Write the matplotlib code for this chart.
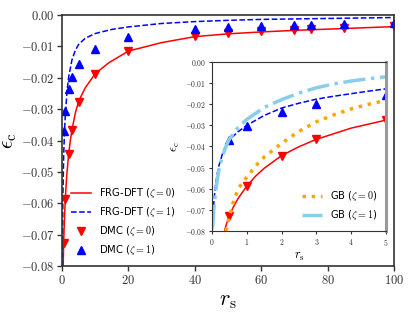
import matplotlib
matplotlib.use("Agg")
import matplotlib.pyplot as plt
from matplotlib.ticker import FuncFormatter

plt.rcParams['mathtext.fontset'] = 'cm'
plt.rcParams['font.family'] = ['DejaVu Sans']

# DMC points (same r_s grid for both polarisations)
dmc_rs = [0.5, 1, 2, 3, 5, 10, 20, 40, 50, 60, 70, 75, 85, 100]
dmc_z0 = [-0.0728, -0.0587, -0.0443, -0.0366, -0.0276, -0.0187, -0.0116,
          -0.0068, -0.0058, -0.0051, -0.0047, -0.0045, -0.0041, -0.0036]
dmc_z1 = [-0.0369, -0.0305, -0.0237, -0.0199, -0.0155, -0.0107, -0.0071,
          -0.0045, -0.0039, -0.0035, -0.0032, -0.0031, -0.0028, -0.0025]

# FRG-DFT zeta=0
frg0_rs = [0.36, 0.4, 0.45, 0.5, 0.6, 0.75, 1.0, 1.25, 1.5, 2, 2.5, 3, 4, 5,
           7, 10, 14, 20, 30, 40, 50, 60, 70, 80, 90, 100]
frg0 = [-0.0800, -0.0775, -0.0750, -0.0728, -0.0691, -0.0646, -0.0587,
        -0.0541, -0.0503, -0.0443, -0.0401, -0.0366, -0.0313, -0.0275,
        -0.0232, -0.0187, -0.0153, -0.0115, -0.0088, -0.0069, -0.0060,
        -0.0054, -0.0049, -0.0045, -0.0041, -0.0037]

# FRG-DFT zeta=1, main panel
frg1_rs = [0.12, 0.2, 0.3, 0.5, 0.75, 1, 1.5, 2, 3, 4, 5, 7, 10, 15, 20,
           30, 40, 50, 60, 80, 100]
frg1 = [-0.080, -0.066, -0.056, -0.045, -0.037, -0.032, -0.0245, -0.0198,
        -0.0143, -0.0113, -0.0094, -0.0074, -0.0059, -0.0046, -0.0038,
        -0.0027, -0.0021, -0.0017, -0.0014, -0.0011, -0.0008]

# FRG-DFT zeta=1, inset
frg1_in_rs = [0.01, 0.03, 0.06, 0.1, 0.15, 0.2, 0.3, 0.4, 0.5, 0.75, 1.0,
              1.5, 2.0, 2.5, 3.0, 3.5, 4.0, 4.5, 5.0]
frg1_in = [-0.080, -0.072, -0.065, -0.0585, -0.053, -0.049, -0.0435,
           -0.0395, -0.0368, -0.0330, -0.0300, -0.0253, -0.0218, -0.0195,
           -0.0176, -0.0162, -0.0150, -0.0138, -0.0127]

# GB curves (inset)
gb0_rs = [0.4, 0.45, 0.5, 0.6, 0.75, 1.0, 1.25, 1.5, 2.0, 2.5, 3.0, 3.5,
          4.0, 4.5, 5.0]
gb0 = [-0.0800, -0.0765, -0.0735, -0.0670, -0.0600, -0.0545, -0.0493,
       -0.0450, -0.0385, -0.0328, -0.0283, -0.0250, -0.0222, -0.0200,
       -0.0182]
gb1_rs = [0.02, 0.05, 0.1, 0.15, 0.2, 0.3, 0.4, 0.5, 0.75, 1.0, 1.5, 2.0,
          2.5, 3.0, 3.5, 4.0, 4.5, 5.0]
gb1 = [-0.078, -0.070, -0.062, -0.056, -0.051, -0.0445, -0.040, -0.0365,
       -0.031, -0.0272, -0.0215, -0.0178, -0.0147, -0.0122, -0.0104,
       -0.0090, -0.0079, -0.0070]

y_ticks = [0.0, -0.01, -0.02, -0.03, -0.04, -0.05, -0.06, -0.07, -0.08]
x_ticks = [0, 20, 40, 60, 80, 100]
x_ticks_in = [0, 1, 2, 3, 4, 5]

spine_c = '#333333'


def fmt2(v, p):
    return r'$%.2f$' % v if abs(v) > 1e-12 else r'$0.00$'


def fmt0(v, p):
    return r'$%d$' % round(v)


fig = plt.figure(figsize=(4.15, 3.12), dpi=100)
ax = fig.add_axes([0.1494, 0.1474, 0.8, 0.8045])

ax.plot(frg0_rs, frg0, '-', color='red', lw=1.1, label=r'FRG-DFT ($\zeta=0$)')
ax.plot(frg1_rs, frg1, '--', color='blue', lw=1.1, label=r'FRG-DFT ($\zeta=1$)')
ax.plot(dmc_rs, dmc_z0, 'v', color='red', ms=5.2, ls='none', label=r'DMC ($\zeta=0$)')
ax.plot(dmc_rs, dmc_z1, '^', color='blue', ms=5.2, ls='none', label=r'DMC ($\zeta=1$)')
ax.set_xlim(0, 100)
ax.set_ylim(-0.08, 0)
ax.set_xticks(x_ticks)
ax.set_yticks(y_ticks)
ax.xaxis.set_major_formatter(FuncFormatter(fmt0))
ax.yaxis.set_major_formatter(FuncFormatter(fmt2))
ax.tick_params(labelsize=9, colors=spine_c, length=3.5, width=1, pad=2)
for s in ax.spines.values():
    s.set_color(spine_c)
    s.set_linewidth(1.2)
ax.set_xlabel(r'$r_{\rm s}$', fontsize=16, labelpad=3)
ax.set_ylabel(r'$\epsilon_{\rm c}$', fontsize=15, labelpad=1)
ax.legend(loc='lower left', frameon=False, fontsize=7.2)

# inset
ins = fig.add_axes([0.5108, 0.2596, 0.4193, 0.5417])
ins.plot(frg0_rs, frg0, '-', color='red', lw=1.1)
ins.plot(frg1_in_rs, frg1_in, '--', color='blue', lw=1.1)
ins.plot(dmc_rs, dmc_z0, 'v', color='red', ms=5.2, ls='none')
ins.plot(dmc_rs, dmc_z1, '^', color='blue', ms=5.2, ls='none')
ins.plot(gb0_rs, gb0, ':', color='orange', lw=2.5, label=r'GB ($\zeta=0$)')
ins.plot(gb1_rs, gb1, '-.', color='skyblue', lw=2.5, label=r'GB ($\zeta=1$)')
ins.set_xlim(0, 5)
ins.set_ylim(-0.08, 0)
ins.set_xticks(x_ticks_in)
ins.set_yticks(y_ticks)
ins.xaxis.set_major_formatter(FuncFormatter(fmt0))
ins.yaxis.set_major_formatter(FuncFormatter(fmt2))
ins.tick_params(labelsize=5.5, colors=spine_c, length=2, width=0.8, pad=2)
for s in ins.spines.values():
    s.set_color(spine_c)
    s.set_linewidth(0.8)
ins.spines['right'].set_color('#999999')
ins.spines['right'].set_linewidth(2.2)
ins.set_xlabel(r'$r_{\rm s}$', fontsize=9, labelpad=2)
ins.set_ylabel(r'$\epsilon_{\rm c}$', fontsize=9, labelpad=2)
ins.legend(loc='lower right', frameon=False, fontsize=7.2)

fig.savefig('out.png', dpi=100)
